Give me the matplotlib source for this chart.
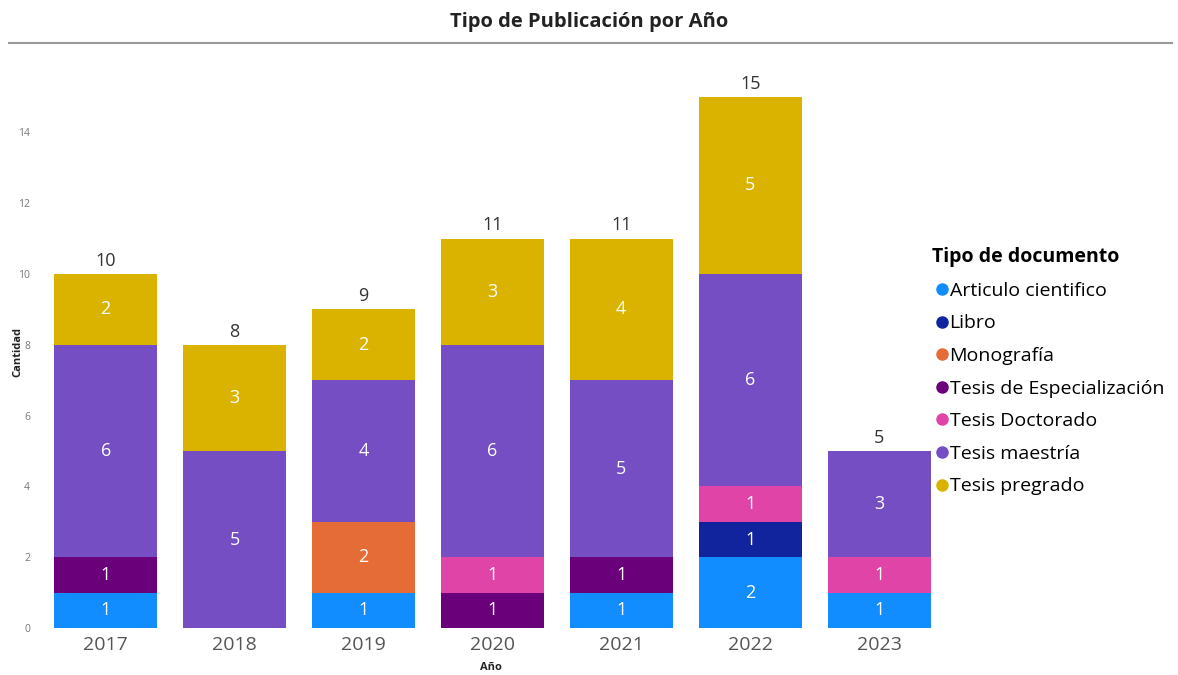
import numpy as np
import matplotlib
matplotlib.use("Agg")
import matplotlib.pyplot as plt
from matplotlib.lines import Line2D

plt.rcParams['font.family'] = ['Open Sans', 'DejaVu Sans']

# datos
anios = ['2017', '2018', '2019', '2020', '2021', '2022', '2023']
tipos = ['Articulo cientifico', 'Libro', 'Monografía', 'Tesis de Especialización',
         'Tesis Doctorado', 'Tesis maestría', 'Tesis pregrado']
articulo = [1, 0, 1, 0, 1, 2, 1]
libro = [0, 0, 0, 0, 0, 1, 0]
monografia = [0, 0, 2, 0, 0, 0, 0]
especializacion = [1, 0, 0, 1, 1, 0, 0]
doctorado = [0, 0, 0, 1, 0, 1, 1]
maestria = [6, 5, 4, 6, 5, 6, 3]
pregrado = [2, 3, 2, 3, 4, 5, 0]
colores = ['#118DFF', '#12239E', '#E66C37', '#6B007B', '#E044A7', '#744EC2', '#D9B300']

series = [articulo, libro, monografia, especializacion, doctorado, maestria, pregrado]

fig = plt.figure(figsize=(11.78, 6.75), dpi=100)
ax = fig.add_axes([0.035, 0.0696, 0.766, 0.812])

x = np.arange(len(anios))
base = np.zeros(len(anios))
for vals, col in zip(series, colores):
    v = np.array(vals, dtype=float)
    ax.bar(x, v, 0.8, bottom=base, color=col, zorder=2)
    for xi, b, h in zip(x, base, v):
        if h > 0:
            ax.text(xi, b + h / 2, str(int(h)), ha='center', va='center',
                    color='white', fontsize=13)
    base += v

for xi, t in zip(x, base):
    ax.text(xi, t + 0.12, str(int(t)), ha='center', va='bottom',
            color='#333333', fontsize=13)

ax.set_xlim(-0.5, 6.5)
ax.set_ylim(0, 15.48)
ax.set_yticks(range(0, 15, 2))
ax.set_xticks(x)
ax.set_xticklabels(anios)
ax.tick_params(axis='y', length=0, labelsize=7.5, labelcolor='#777777', pad=8)
ax.tick_params(axis='x', length=0, labelsize=14, labelcolor='#555555', pad=6)
for s in ax.spines.values():
    s.set_visible(False)

fig.text(18 / 1178, 1 - 352 / 675, 'Cantidad', rotation=90, ha='center', va='center',
         fontsize=8, fontweight='bold', color='#222222')
fig.text(491 / 1178, 1 - 668 / 675, 'Año', ha='center', va='center',
         fontsize=8, fontweight='bold', color='#222222')

fig.text(0.5, 0.967, 'Tipo de Publicación por Año', ha='center', va='center',
         fontsize=14.5, fontweight='bold', color='#222222')
fig.add_artist(Line2D([0.008, 0.995], [0.936, 0.936], color='#999999', lw=1.5))

handles = [Line2D([], [], marker='o', ls='', color=c, markersize=8) for c in colores]
leg = fig.legend(handles, tipos, title='Tipo de documento', loc='upper left',
                 bbox_to_anchor=(0.783, 0.648), frameon=False, fontsize=14,
                 handletextpad=-0.1, labelspacing=0.75, handlelength=1.0,
                 borderpad=0, alignment='left')
leg.get_title().set_fontweight('bold')
leg.get_title().set_fontsize(14)

fig.savefig('out.png', dpi=100)
